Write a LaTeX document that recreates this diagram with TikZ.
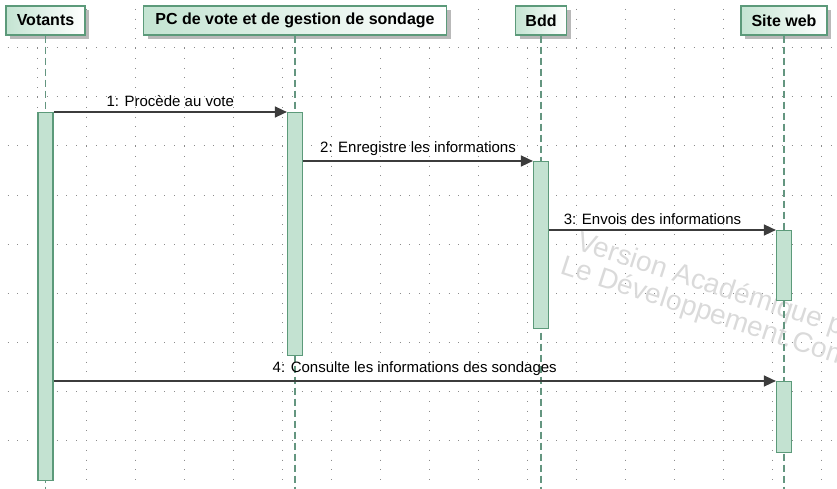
\documentclass[tikz,border=0pt]{standalone}
\usepackage{fontspec}
\setmainfont{Liberation Sans}
\usetikzlibrary{arrows.meta}
\usetikzlibrary{shadows}

\definecolor{headgreen}{RGB}{196,228,210}
\definecolor{edgegreen}{RGB}{92,154,122}
\definecolor{bargreen}{RGB}{195,226,209}
\definecolor{lifegreen}{RGB}{100,150,128}
\definecolor{msggray}{RGB}{60,60,60}
\definecolor{dotgray}{RGB}{140,140,140}
\definecolor{markgray}{RGB}{218,218,218}
\definecolor{shadegray}{RGB}{185,185,185}

\tikzset{
  header/.style={draw=edgegreen, line width=1.2pt, left color=headgreen, right color=white,
    minimum height=29pt, inner sep=0pt, font=\fontsize{16}{18}\selectfont\bfseries,
    drop shadow={shadow xshift=4pt, shadow yshift=-4pt, fill=shadegray, opacity=1}},
  actbar/.style={draw=edgegreen, line width=1.2pt, fill=bargreen, minimum width=15pt,
    inner sep=0pt, anchor=north},
  lifeline/.style={lifegreen, line width=1.3pt, dash pattern=on 7pt off 4pt},
  msg/.style={msggray, line width=1.5pt, -{Triangle[length=12pt,width=11pt]}},
  msglabel/.style={above=1pt, font=\fontsize{15}{17}\selectfont, text=black},
  griddot/.style={dotgray, line width=1pt, dash pattern=on 1pt off 8.8pt},
  watermark/.style={markgray, anchor=base west, rotate=-18, font=\fontsize{28}{30}\selectfont}
}

\begin{document}
\begin{tikzpicture}[x=1pt, y=-1pt]
    \useasboundingbox (0,0) rectangle (837,489);
    \clip (0,0) rectangle (837,489);

    % grid
    \foreach \gx in {37,86,...,837}
        \draw[griddot] (\gx,-1) -- (\gx,489);
    \foreach \gy in {48,97,...,489}
        \draw[griddot] (-2.2,\gy) -- (837,\gy);

    \node[watermark] (markA) at (572,248) {Version Académique pour};
    \node[watermark] (markB) at (556,272) {Le Développement.Com};

    % lifelines
    \node[header, minimum width=79pt] (votants) at (45.5,20.5) {Votants};
    \node[header, minimum width=303pt] (pc) at (295,20.5) {PC de vote et de gestion de sondage};
    \node[header, minimum width=51pt] (bdd) at (541,20.5) {Bdd};
    \node[header, minimum width=86pt] (site) at (784,20.5) {Site web};

    \draw[lifeline] (votants.south) -- (votants.south |- 0,489);
    \draw[lifeline] (pc.south) -- (pc.south |- 0,489);
    \draw[lifeline] (bdd.south) -- (bdd.south |- 0,489);
    \draw[lifeline] (site.south) -- (site.south |- 0,489);

    \node[actbar, minimum height=368pt] (barvot) at (45.5,112) {};
    \node[actbar, minimum height=243pt] (barpc) at (295,112) {};
    \node[actbar, minimum height=167pt] (barbdd) at (541,161) {};
    \node[actbar, minimum height=70pt] (barsiteA) at (784,230) {};
    \node[actbar, minimum height=71pt] (barsiteB) at (784,381) {};

    % messages
    \draw[msg] (barvot.north east) -- node[msglabel] {1: Procède au vote} (barpc.north west);
    \draw[msg] (barpc.east |- barbdd.north) -- node[msglabel] {2: Enregistre les informations} (barbdd.north west);
    \draw[msg] (barbdd.east |- barsiteA.north) -- node[msglabel, xshift=-10pt] {3: Envois des informations} (barsiteA.north west);
    \draw[msg] (barvot.east |- barsiteB.north) -- node[msglabel] {4: Consulte les informations des sondages} (barsiteB.north west);

\end{tikzpicture}
\end{document}
